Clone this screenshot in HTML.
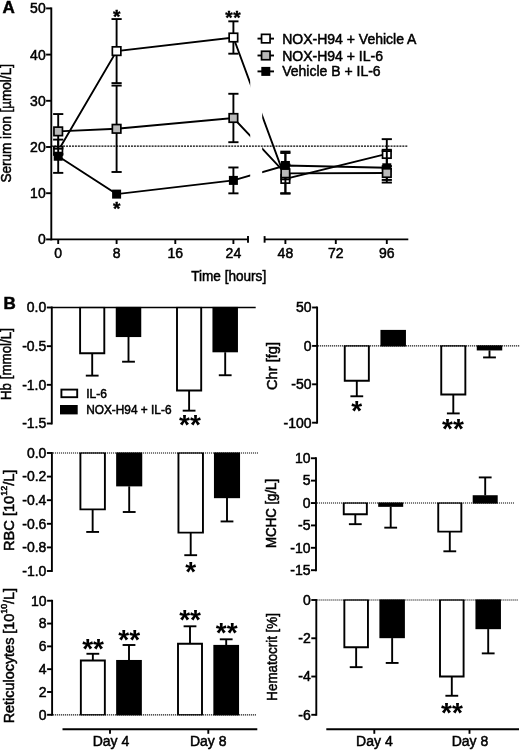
<!DOCTYPE html>
<html><head><meta charset="utf-8"><title>Figure</title>
<style>html,body{margin:0;padding:0;background:#fff}svg{display:block;will-change:transform;font-family:"Liberation Sans", Arial, Helvetica, sans-serif;fill:#000}</style>
</head><body>
<svg width="520" height="750" viewBox="0 0 520 750">
<rect x="0" y="0" width="520" height="750" fill="#fff" stroke="none"/>
<text x="2.6" y="12.6" font-size="17" text-anchor="start" font-weight="bold" stroke="#000" stroke-width="0.5">A</text>
<line x1="51.3" y1="7.45" x2="51.3" y2="240.35" stroke="#000" stroke-width="1.9" />
<line x1="46.099999999999994" y1="239.4" x2="51.3" y2="239.4" stroke="#000" stroke-width="1.9" />
<text x="45.699999999999996" y="244.4" font-size="14" text-anchor="end" font-weight="normal" stroke="#000" stroke-width="0.5">0</text>
<line x1="46.099999999999994" y1="193.2" x2="51.3" y2="193.2" stroke="#000" stroke-width="1.9" />
<text x="45.699999999999996" y="198.2" font-size="14" text-anchor="end" font-weight="normal" stroke="#000" stroke-width="0.5">10</text>
<line x1="46.099999999999994" y1="147.0" x2="51.3" y2="147.0" stroke="#000" stroke-width="1.9" />
<text x="45.699999999999996" y="152.0" font-size="14" text-anchor="end" font-weight="normal" stroke="#000" stroke-width="0.5">20</text>
<line x1="46.099999999999994" y1="100.8" x2="51.3" y2="100.8" stroke="#000" stroke-width="1.9" />
<text x="45.699999999999996" y="105.8" font-size="14" text-anchor="end" font-weight="normal" stroke="#000" stroke-width="0.5">30</text>
<line x1="46.099999999999994" y1="54.6" x2="51.3" y2="54.6" stroke="#000" stroke-width="1.9" />
<text x="45.699999999999996" y="59.6" font-size="14" text-anchor="end" font-weight="normal" stroke="#000" stroke-width="0.5">40</text>
<line x1="46.099999999999994" y1="8.4" x2="51.3" y2="8.4" stroke="#000" stroke-width="1.9" />
<text x="45.699999999999996" y="13.4" font-size="14" text-anchor="end" font-weight="normal" stroke="#000" stroke-width="0.5">50</text>
<text transform="translate(11.2,123.3) rotate(-90)" font-size="14" text-anchor="middle" textLength="118.5" lengthAdjust="spacingAndGlyphs" stroke="#000" stroke-width="0.5">Serum iron [µmol/L]</text>
<line x1="51.3" y1="239.4" x2="248.5" y2="239.4" stroke="#000" stroke-width="1.9" />
<line x1="248" y1="236.1" x2="248" y2="242.70000000000002" stroke="#000" stroke-width="1.9" />
<line x1="58.2" y1="239.4" x2="58.2" y2="244.0" stroke="#000" stroke-width="1.9" />
<text x="58.2" y="258.4" font-size="14" text-anchor="middle" font-weight="normal" stroke="#000" stroke-width="0.5">0</text>
<line x1="116.6" y1="239.4" x2="116.6" y2="244.0" stroke="#000" stroke-width="1.9" />
<text x="116.6" y="258.4" font-size="14" text-anchor="middle" font-weight="normal" stroke="#000" stroke-width="0.5">8</text>
<line x1="175.3" y1="239.4" x2="175.3" y2="244.0" stroke="#000" stroke-width="1.9" />
<text x="175.3" y="258.4" font-size="14" text-anchor="middle" font-weight="normal" stroke="#000" stroke-width="0.5">16</text>
<line x1="233.4" y1="239.4" x2="233.4" y2="244.0" stroke="#000" stroke-width="1.9" />
<text x="233.4" y="258.4" font-size="14" text-anchor="middle" font-weight="normal" stroke="#000" stroke-width="0.5">24</text>
<line x1="264" y1="239.4" x2="408.3" y2="239.4" stroke="#000" stroke-width="1.9" />
<line x1="264.6" y1="236.1" x2="264.6" y2="242.70000000000002" stroke="#000" stroke-width="1.9" />
<line x1="285.4" y1="239.4" x2="285.4" y2="244.0" stroke="#000" stroke-width="1.9" />
<text x="285.4" y="258.4" font-size="14" text-anchor="middle" font-weight="normal" stroke="#000" stroke-width="0.5">48</text>
<line x1="335.8" y1="239.4" x2="335.8" y2="244.0" stroke="#000" stroke-width="1.9" />
<text x="335.8" y="258.4" font-size="14" text-anchor="middle" font-weight="normal" stroke="#000" stroke-width="0.5">72</text>
<line x1="386.8" y1="239.4" x2="386.8" y2="244.0" stroke="#000" stroke-width="1.9" />
<text x="386.8" y="258.4" font-size="14" text-anchor="middle" font-weight="normal" stroke="#000" stroke-width="0.5">96</text>
<text x="228.7" y="280.6" font-size="14" text-anchor="middle" font-weight="normal" stroke="#000" stroke-width="0.5" textLength="75" lengthAdjust="spacingAndGlyphs">Time [hours]</text>
<defs><clipPath id="c1"><rect x="0" y="0" width="250.2" height="240"/></clipPath><clipPath id="c2"><rect x="262.2" y="0" width="200" height="240"/></clipPath></defs>
<polyline points="58.2,150.79 116.6,51.09 233.4,37.51 285.4,178.88 386.8,153.93" fill="none" stroke="#000" stroke-width="1.9" clip-path="url(#c1)"/>
<polyline points="58.2,150.79 116.6,51.09 233.4,37.51 285.4,178.88 386.8,153.93" fill="none" stroke="#000" stroke-width="1.9" clip-path="url(#c2)"/>
<line x1="58.2" y1="147.55" x2="58.2" y2="154.02" stroke="#000" stroke-width="1.9" />
<line x1="53.1" y1="147.55" x2="63.300000000000004" y2="147.55" stroke="#000" stroke-width="1.9" />
<line x1="53.1" y1="154.02" x2="63.300000000000004" y2="154.02" stroke="#000" stroke-width="1.9" />
<line x1="116.6" y1="19.07" x2="116.6" y2="83.11" stroke="#000" stroke-width="1.9" />
<line x1="111.5" y1="19.07" x2="121.69999999999999" y2="19.07" stroke="#000" stroke-width="1.9" />
<line x1="111.5" y1="83.11" x2="121.69999999999999" y2="83.11" stroke="#000" stroke-width="1.9" />
<line x1="233.4" y1="21.34" x2="233.4" y2="53.68" stroke="#000" stroke-width="1.9" />
<line x1="228.3" y1="21.34" x2="238.5" y2="21.34" stroke="#000" stroke-width="1.9" />
<line x1="228.3" y1="53.68" x2="238.5" y2="53.68" stroke="#000" stroke-width="1.9" />
<line x1="285.4" y1="164.56" x2="285.4" y2="193.2" stroke="#000" stroke-width="1.9" />
<line x1="280.29999999999995" y1="164.56" x2="290.5" y2="164.56" stroke="#000" stroke-width="1.9" />
<line x1="280.29999999999995" y1="193.2" x2="290.5" y2="193.2" stroke="#000" stroke-width="1.9" />
<line x1="386.8" y1="139.15" x2="386.8" y2="168.71" stroke="#000" stroke-width="1.9" />
<line x1="381.7" y1="139.15" x2="391.90000000000003" y2="139.15" stroke="#000" stroke-width="1.9" />
<line x1="381.7" y1="168.71" x2="391.90000000000003" y2="168.71" stroke="#000" stroke-width="1.9" />
<rect x="53.95" y="146.54" width="8.5" height="8.5" fill="#fff" stroke="#000" stroke-width="1.7"/>
<rect x="112.35" y="46.84" width="8.5" height="8.5" fill="#fff" stroke="#000" stroke-width="1.7"/>
<rect x="229.15" y="33.26" width="8.5" height="8.5" fill="#fff" stroke="#000" stroke-width="1.7"/>
<rect x="281.15" y="174.63" width="8.5" height="8.5" fill="#fff" stroke="#000" stroke-width="1.7"/>
<rect x="382.55" y="149.68" width="8.5" height="8.5" fill="#fff" stroke="#000" stroke-width="1.7"/>
<line x1="51.3" y1="146.08" x2="408" y2="146.08" stroke="#000" stroke-width="1.4" stroke-dasharray="2 0.95"/>
<polyline points="58.2,156.24 116.6,194.12 233.4,180.4 285.4,165.48 386.8,167.79" fill="none" stroke="#000" stroke-width="1.9" clip-path="url(#c1)"/>
<polyline points="58.2,156.24 116.6,194.12 233.4,180.4 285.4,165.48 386.8,167.79" fill="none" stroke="#000" stroke-width="1.9" clip-path="url(#c2)"/>
<line x1="58.2" y1="139.61" x2="58.2" y2="172.87" stroke="#000" stroke-width="1.9" />
<line x1="53.1" y1="139.61" x2="63.300000000000004" y2="139.61" stroke="#000" stroke-width="1.9" />
<line x1="53.1" y1="172.87" x2="63.300000000000004" y2="172.87" stroke="#000" stroke-width="1.9" />
<line x1="233.4" y1="167.47" x2="233.4" y2="193.34" stroke="#000" stroke-width="1.9" />
<line x1="228.3" y1="167.47" x2="238.5" y2="167.47" stroke="#000" stroke-width="1.9" />
<line x1="228.3" y1="193.34" x2="238.5" y2="193.34" stroke="#000" stroke-width="1.9" />
<line x1="285.4" y1="151.62" x2="285.4" y2="179.34" stroke="#000" stroke-width="1.9" />
<line x1="280.29999999999995" y1="151.62" x2="290.5" y2="151.62" stroke="#000" stroke-width="1.9" />
<line x1="280.29999999999995" y1="179.34" x2="290.5" y2="179.34" stroke="#000" stroke-width="1.9" />
<line x1="386.8" y1="151.07" x2="386.8" y2="182.57" stroke="#000" stroke-width="1.9" />
<line x1="381.7" y1="151.07" x2="391.90000000000003" y2="151.07" stroke="#000" stroke-width="1.9" />
<line x1="381.7" y1="182.57" x2="391.90000000000003" y2="182.57" stroke="#000" stroke-width="1.9" />
<rect x="53.7" y="151.74" width="9" height="9" fill="#000"/>
<rect x="112.1" y="189.62" width="9" height="9" fill="#000"/>
<rect x="228.9" y="175.9" width="9" height="9" fill="#000"/>
<rect x="280.9" y="160.98" width="9" height="9" fill="#000"/>
<rect x="382.3" y="163.29" width="9" height="9" fill="#000"/>
<polyline points="58.2,131.38 116.6,128.8 233.4,117.99 285.4,173.33 386.8,173.01" fill="none" stroke="#000" stroke-width="1.9" clip-path="url(#c1)"/>
<polyline points="58.2,131.38 116.6,128.8 233.4,117.99 285.4,173.33 386.8,173.01" fill="none" stroke="#000" stroke-width="1.9" clip-path="url(#c2)"/>
<line x1="58.2" y1="114.06" x2="58.2" y2="148.71" stroke="#000" stroke-width="1.9" />
<line x1="53.1" y1="114.06" x2="63.300000000000004" y2="114.06" stroke="#000" stroke-width="1.9" />
<line x1="53.1" y1="148.71" x2="63.300000000000004" y2="148.71" stroke="#000" stroke-width="1.9" />
<line x1="116.6" y1="85.6" x2="116.6" y2="171.99" stroke="#000" stroke-width="1.9" />
<line x1="111.5" y1="85.6" x2="121.69999999999999" y2="85.6" stroke="#000" stroke-width="1.9" />
<line x1="111.5" y1="171.99" x2="121.69999999999999" y2="171.99" stroke="#000" stroke-width="1.9" />
<line x1="233.4" y1="93.78" x2="233.4" y2="142.2" stroke="#000" stroke-width="1.9" />
<line x1="228.3" y1="93.78" x2="238.5" y2="93.78" stroke="#000" stroke-width="1.9" />
<line x1="228.3" y1="142.2" x2="238.5" y2="142.2" stroke="#000" stroke-width="1.9" />
<line x1="285.4" y1="153.01" x2="285.4" y2="193.66" stroke="#000" stroke-width="1.9" />
<line x1="280.29999999999995" y1="153.01" x2="290.5" y2="153.01" stroke="#000" stroke-width="1.9" />
<line x1="280.29999999999995" y1="193.66" x2="290.5" y2="193.66" stroke="#000" stroke-width="1.9" />
<line x1="386.8" y1="166.08" x2="386.8" y2="179.94" stroke="#000" stroke-width="1.9" />
<line x1="381.7" y1="166.08" x2="391.90000000000003" y2="166.08" stroke="#000" stroke-width="1.9" />
<line x1="381.7" y1="179.94" x2="391.90000000000003" y2="179.94" stroke="#000" stroke-width="1.9" />
<rect x="53.95" y="127.13" width="8.5" height="8.5" fill="#b9b9b9" stroke="#000" stroke-width="1.7"/>
<rect x="112.35" y="124.55000000000001" width="8.5" height="8.5" fill="#b9b9b9" stroke="#000" stroke-width="1.7"/>
<rect x="229.15" y="113.74" width="8.5" height="8.5" fill="#b9b9b9" stroke="#000" stroke-width="1.7"/>
<rect x="281.15" y="169.08" width="8.5" height="8.5" fill="#b9b9b9" stroke="#000" stroke-width="1.7"/>
<rect x="382.55" y="168.76" width="8.5" height="8.5" fill="#b9b9b9" stroke="#000" stroke-width="1.7"/>
<text x="116.6" y="23.0" font-size="19" text-anchor="middle" font-weight="bold" stroke="#000" stroke-width="0.4">*</text>
<text x="233.3" y="24.2" font-size="19" text-anchor="middle" font-weight="bold" stroke="#000" stroke-width="0.4" letter-spacing="0.6">**</text>
<text x="116.6" y="214.8" font-size="19" text-anchor="middle" font-weight="bold" stroke="#000" stroke-width="0.4">*</text>
<line x1="257.5" y1="38.6" x2="274" y2="38.6" stroke="#000" stroke-width="1.9" />
<rect x="261.55" y="34.35" width="8.5" height="8.5" fill="#fff" stroke="#000" stroke-width="1.7"/>
<text x="282.2" y="43.6" font-size="14" text-anchor="start" font-weight="normal" stroke="#000" stroke-width="0.5">NOX-H94 + Vehicle A</text>
<line x1="257.5" y1="55.5" x2="274" y2="55.5" stroke="#000" stroke-width="1.9" />
<rect x="261.55" y="51.25" width="8.5" height="8.5" fill="#b9b9b9" stroke="#000" stroke-width="1.7"/>
<text x="282.2" y="60.5" font-size="14" text-anchor="start" font-weight="normal" stroke="#000" stroke-width="0.5">NOX-H94 + IL-6</text>
<line x1="257.5" y1="71.4" x2="274" y2="71.4" stroke="#000" stroke-width="1.9" />
<rect x="261.3" y="66.9" width="9" height="9" fill="#000"/>
<text x="282.2" y="76.4" font-size="14" text-anchor="start" font-weight="normal" stroke="#000" stroke-width="0.5">Vehicle B + IL-6</text>
<text x="3.4" y="308.6" font-size="17" text-anchor="start" font-weight="bold" stroke="#000" stroke-width="0.5">B</text>
<line x1="92.2" y1="353.2" x2="92.2" y2="375.63" stroke="#000" stroke-width="1.9" />
<line x1="85.8" y1="375.63" x2="98.60000000000001" y2="375.63" stroke="#000" stroke-width="1.9" />
<path d="M80.10000000000001 307.5 L80.10000000000001 353.2 L104.3 353.2 L104.3 307.5" fill="#fff" stroke="#000" stroke-width="1.9" stroke-linejoin="miter"/>
<line x1="79.15" y1="307.5" x2="105.25" y2="307.5" stroke="#000" stroke-width="1.2" />
<line x1="128.5" y1="336.96" x2="128.5" y2="361.71" stroke="#000" stroke-width="1.9" />
<line x1="122.1" y1="361.71" x2="134.9" y2="361.71" stroke="#000" stroke-width="1.9" />
<rect x="115.75" y="306.9" width="25.5" height="30.159999999999982" fill="#000"/>
<line x1="189.1" y1="390.56" x2="189.1" y2="410.66" stroke="#000" stroke-width="1.9" />
<line x1="182.7" y1="410.66" x2="195.5" y2="410.66" stroke="#000" stroke-width="1.9" />
<path d="M177.0 307.5 L177.0 390.56 L201.2 390.56 L201.2 307.5" fill="#fff" stroke="#000" stroke-width="1.9" stroke-linejoin="miter"/>
<line x1="176.05" y1="307.5" x2="202.14999999999998" y2="307.5" stroke="#000" stroke-width="1.2" />
<line x1="225.2" y1="352.2" x2="225.2" y2="375.24" stroke="#000" stroke-width="1.9" />
<line x1="218.79999999999998" y1="375.24" x2="231.6" y2="375.24" stroke="#000" stroke-width="1.9" />
<rect x="212.45" y="306.9" width="25.5" height="45.39999999999999" fill="#000"/>
<line x1="51.8" y1="307.5" x2="255.7" y2="307.5" stroke="#000" stroke-width="1.3" />
<line x1="51.8" y1="306.55" x2="51.8" y2="424.45" stroke="#000" stroke-width="1.9" />
<line x1="46.8" y1="307.5" x2="51.8" y2="307.5" stroke="#000" stroke-width="1.9" />
<text x="46.3" y="312.3" font-size="14" text-anchor="end" font-weight="normal" stroke="#000" stroke-width="0.5">0.0</text>
<line x1="46.8" y1="346.17" x2="51.8" y2="346.17" stroke="#000" stroke-width="1.9" />
<text x="46.3" y="350.97" font-size="14" text-anchor="end" font-weight="normal" stroke="#000" stroke-width="0.5">-0.5</text>
<line x1="46.8" y1="384.83" x2="51.8" y2="384.83" stroke="#000" stroke-width="1.9" />
<text x="46.3" y="389.63" font-size="14" text-anchor="end" font-weight="normal" stroke="#000" stroke-width="0.5">-1.0</text>
<line x1="46.8" y1="423.5" x2="51.8" y2="423.5" stroke="#000" stroke-width="1.9" />
<text x="46.3" y="428.3" font-size="14" text-anchor="end" font-weight="normal" stroke="#000" stroke-width="0.5">-1.5</text>
<text transform="translate(11.2,364.1) rotate(-90)" font-size="14" text-anchor="middle" textLength="72" lengthAdjust="spacingAndGlyphs" stroke="#000" stroke-width="0.5">Hb [mmol/L]</text>
<text x="190" y="434.40000000000003" font-size="28" text-anchor="middle" font-weight="bold" >**</text>
<rect x="61.4" y="389.6" width="15.8" height="7.6" fill="#fff" stroke="#000" stroke-width="1.9"/>
<text x="86.2" y="397.6" font-size="12" text-anchor="start" font-weight="normal" stroke="#000" stroke-width="0.5">IL-6</text>
<rect x="60" y="405" width="17.7" height="9.4" fill="#000"/>
<text x="86.2" y="413.8" font-size="12" text-anchor="start" font-weight="normal" stroke="#000" stroke-width="0.5" textLength="85.3" lengthAdjust="spacingAndGlyphs">NOX-H94 + IL-6</text>
<line x1="356.8" y1="380.77" x2="356.8" y2="396.28" stroke="#000" stroke-width="1.9" />
<line x1="350.40000000000003" y1="396.28" x2="363.2" y2="396.28" stroke="#000" stroke-width="1.9" />
<path d="M344.75 345.9 L344.75 380.77 L368.85 380.77 L368.85 345.9" fill="#fff" stroke="#000" stroke-width="1.9" stroke-linejoin="miter"/>
<line x1="343.8" y1="345.9" x2="369.8" y2="345.9" stroke="#000" stroke-width="1.2" />
<rect x="380.45" y="329.9" width="25.5" height="16.599999999999977" fill="#000"/>
<line x1="453.3" y1="394.44" x2="453.3" y2="413.41" stroke="#000" stroke-width="1.9" />
<line x1="446.90000000000003" y1="413.41" x2="459.7" y2="413.41" stroke="#000" stroke-width="1.9" />
<path d="M441.25 345.9 L441.25 394.44 L465.35 394.44 L465.35 345.9" fill="#fff" stroke="#000" stroke-width="1.9" stroke-linejoin="miter"/>
<line x1="440.3" y1="345.9" x2="466.3" y2="345.9" stroke="#000" stroke-width="1.2" />
<line x1="489.5" y1="350.35" x2="489.5" y2="357.42" stroke="#000" stroke-width="1.9" />
<line x1="483.1" y1="357.42" x2="495.9" y2="357.42" stroke="#000" stroke-width="1.9" />
<rect x="476.75" y="345.29999999999995" width="25.5" height="5.150000000000045" fill="#000"/>
<line x1="318.1" y1="345.9" x2="520" y2="345.9" stroke="#000" stroke-width="1.15" stroke-dasharray="1.1 0.9"/>
<line x1="317.1" y1="306.55" x2="317.1" y2="423.65" stroke="#000" stroke-width="1.9" />
<line x1="312.1" y1="307.5" x2="317.1" y2="307.5" stroke="#000" stroke-width="1.9" />
<text x="311.6" y="312.3" font-size="14" text-anchor="end" font-weight="normal" stroke="#000" stroke-width="0.5">50</text>
<line x1="312.1" y1="345.9" x2="317.1" y2="345.9" stroke="#000" stroke-width="1.9" />
<text x="311.6" y="350.7" font-size="14" text-anchor="end" font-weight="normal" stroke="#000" stroke-width="0.5">0</text>
<line x1="312.1" y1="384.3" x2="317.1" y2="384.3" stroke="#000" stroke-width="1.9" />
<text x="311.6" y="389.1" font-size="14" text-anchor="end" font-weight="normal" stroke="#000" stroke-width="0.5">-50</text>
<line x1="312.1" y1="422.7" x2="317.1" y2="422.7" stroke="#000" stroke-width="1.9" />
<text x="311.6" y="427.5" font-size="14" text-anchor="end" font-weight="normal" stroke="#000" stroke-width="0.5">-100</text>
<text transform="translate(277,366) rotate(-90)" font-size="14" text-anchor="middle" textLength="48" lengthAdjust="spacingAndGlyphs" stroke="#000" stroke-width="0.5">Chr [fg]</text>
<text x="356.6" y="420.1" font-size="28" text-anchor="middle" font-weight="bold" >*</text>
<text x="453" y="438.40000000000003" font-size="28" text-anchor="middle" font-weight="bold" >**</text>
<line x1="92.65" y1="509.4" x2="92.65" y2="531.94" stroke="#000" stroke-width="1.9" />
<line x1="86.25" y1="531.94" x2="99.05000000000001" y2="531.94" stroke="#000" stroke-width="1.9" />
<path d="M80.4 453.0 L80.4 509.4 L104.9 509.4 L104.9 453.0" fill="#fff" stroke="#000" stroke-width="1.9" stroke-linejoin="miter"/>
<line x1="79.45" y1="453.0" x2="105.85000000000001" y2="453.0" stroke="#000" stroke-width="1.2" />
<line x1="129.2" y1="486.28" x2="129.2" y2="512.0" stroke="#000" stroke-width="1.9" />
<line x1="122.79999999999998" y1="512.0" x2="135.6" y2="512.0" stroke="#000" stroke-width="1.9" />
<rect x="116.14999999999999" y="452.4" width="26.1" height="33.979999999999976" fill="#000"/>
<line x1="190.7" y1="532.65" x2="190.7" y2="555.19" stroke="#000" stroke-width="1.9" />
<line x1="184.29999999999998" y1="555.19" x2="197.1" y2="555.19" stroke="#000" stroke-width="1.9" />
<path d="M178.45 453.0 L178.45 532.65 L202.95 532.65 L202.95 453.0" fill="#fff" stroke="#000" stroke-width="1.9" stroke-linejoin="miter"/>
<line x1="177.5" y1="453.0" x2="203.89999999999998" y2="453.0" stroke="#000" stroke-width="1.2" />
<line x1="227.0" y1="498.08" x2="227.0" y2="521.44" stroke="#000" stroke-width="1.9" />
<line x1="220.6" y1="521.44" x2="233.4" y2="521.44" stroke="#000" stroke-width="1.9" />
<rect x="213.95" y="452.4" width="26.1" height="45.77999999999999" fill="#000"/>
<line x1="52.9" y1="453.0" x2="258" y2="453.0" stroke="#000" stroke-width="1.15" stroke-dasharray="1.1 0.9"/>
<line x1="51.9" y1="452.05" x2="51.9" y2="571.95" stroke="#000" stroke-width="1.9" />
<line x1="46.9" y1="453.0" x2="51.9" y2="453.0" stroke="#000" stroke-width="1.9" />
<text x="46.4" y="457.8" font-size="14" text-anchor="end" font-weight="normal" stroke="#000" stroke-width="0.5">0.0</text>
<line x1="46.9" y1="476.6" x2="51.9" y2="476.6" stroke="#000" stroke-width="1.9" />
<text x="46.4" y="481.40000000000003" font-size="14" text-anchor="end" font-weight="normal" stroke="#000" stroke-width="0.5">-0.2</text>
<line x1="46.9" y1="500.2" x2="51.9" y2="500.2" stroke="#000" stroke-width="1.9" />
<text x="46.4" y="505.0" font-size="14" text-anchor="end" font-weight="normal" stroke="#000" stroke-width="0.5">-0.4</text>
<line x1="46.9" y1="523.8" x2="51.9" y2="523.8" stroke="#000" stroke-width="1.9" />
<text x="46.4" y="528.5999999999999" font-size="14" text-anchor="end" font-weight="normal" stroke="#000" stroke-width="0.5">-0.6</text>
<line x1="46.9" y1="547.4" x2="51.9" y2="547.4" stroke="#000" stroke-width="1.9" />
<text x="46.4" y="552.1999999999999" font-size="14" text-anchor="end" font-weight="normal" stroke="#000" stroke-width="0.5">-0.8</text>
<line x1="46.9" y1="571.0" x2="51.9" y2="571.0" stroke="#000" stroke-width="1.9" />
<text x="46.4" y="575.8" font-size="14" text-anchor="end" font-weight="normal" stroke="#000" stroke-width="0.5">-1.0</text>
<text transform="translate(13.7,510.3) rotate(-90)" font-size="14" text-anchor="middle" textLength="81.5" lengthAdjust="spacingAndGlyphs" stroke="#000" stroke-width="0.5">RBC [10<tspan font-size="8.5" dy="-7.2">12</tspan><tspan dy="7.2">/L]</tspan></text>
<text x="190.7" y="581.1" font-size="28" text-anchor="middle" font-weight="bold" >*</text>
<line x1="355.3" y1="514.23" x2="355.3" y2="524.17" stroke="#000" stroke-width="1.9" />
<line x1="348.90000000000003" y1="524.17" x2="361.7" y2="524.17" stroke="#000" stroke-width="1.9" />
<path d="M343.75 503.03 L343.75 514.23 L366.85 514.23 L366.85 503.03" fill="#fff" stroke="#000" stroke-width="1.9" stroke-linejoin="miter"/>
<line x1="342.8" y1="503.03" x2="367.8" y2="503.03" stroke="#000" stroke-width="1.2" />
<line x1="390.7" y1="506.75" x2="390.7" y2="527.66" stroke="#000" stroke-width="1.9" />
<line x1="384.3" y1="527.66" x2="397.09999999999997" y2="527.66" stroke="#000" stroke-width="1.9" />
<rect x="378.2" y="502.42999999999995" width="25.0" height="4.4200000000000275" fill="#000"/>
<line x1="449.8" y1="531.64" x2="449.8" y2="551.3" stroke="#000" stroke-width="1.9" />
<line x1="443.40000000000003" y1="551.3" x2="456.2" y2="551.3" stroke="#000" stroke-width="1.9" />
<path d="M438.25 503.03 L438.25 531.64 L461.35 531.64 L461.35 503.03" fill="#fff" stroke="#000" stroke-width="1.9" stroke-linejoin="miter"/>
<line x1="437.3" y1="503.03" x2="462.3" y2="503.03" stroke="#000" stroke-width="1.2" />
<line x1="485.2" y1="495.33" x2="485.2" y2="477.42" stroke="#000" stroke-width="1.9" />
<line x1="478.8" y1="477.42" x2="491.59999999999997" y2="477.42" stroke="#000" stroke-width="1.9" />
<rect x="472.7" y="495.22999999999996" width="25.0" height="8.399999999999988" fill="#000"/>
<line x1="317.0" y1="503.03" x2="514" y2="503.03" stroke="#000" stroke-width="1.15" stroke-dasharray="1.1 0.9"/>
<line x1="316.0" y1="457.3" x2="316.0" y2="571.1500000000001" stroke="#000" stroke-width="1.9" />
<line x1="311.0" y1="458.25" x2="316.0" y2="458.25" stroke="#000" stroke-width="1.9" />
<text x="310.5" y="463.05" font-size="14" text-anchor="end" font-weight="normal" stroke="#000" stroke-width="0.5">10</text>
<line x1="311.0" y1="480.64" x2="316.0" y2="480.64" stroke="#000" stroke-width="1.9" />
<text x="310.5" y="485.44" font-size="14" text-anchor="end" font-weight="normal" stroke="#000" stroke-width="0.5">5</text>
<line x1="311.0" y1="503.03" x2="316.0" y2="503.03" stroke="#000" stroke-width="1.9" />
<text x="310.5" y="507.83" font-size="14" text-anchor="end" font-weight="normal" stroke="#000" stroke-width="0.5">0</text>
<line x1="311.0" y1="525.42" x2="316.0" y2="525.42" stroke="#000" stroke-width="1.9" />
<text x="310.5" y="530.2199999999999" font-size="14" text-anchor="end" font-weight="normal" stroke="#000" stroke-width="0.5">-5</text>
<line x1="311.0" y1="547.81" x2="316.0" y2="547.81" stroke="#000" stroke-width="1.9" />
<text x="310.5" y="552.6099999999999" font-size="14" text-anchor="end" font-weight="normal" stroke="#000" stroke-width="0.5">-10</text>
<line x1="311.0" y1="570.2" x2="316.0" y2="570.2" stroke="#000" stroke-width="1.9" />
<text x="310.5" y="575.0" font-size="14" text-anchor="end" font-weight="normal" stroke="#000" stroke-width="0.5">-15</text>
<text transform="translate(275.5,513.4) rotate(-90)" font-size="14" text-anchor="middle" textLength="69" lengthAdjust="spacingAndGlyphs" stroke="#000" stroke-width="0.5">MCHC [g/L]</text>
<line x1="92.85" y1="660.51" x2="92.85" y2="653.78" stroke="#000" stroke-width="1.9" />
<line x1="86.44999999999999" y1="653.78" x2="99.25" y2="653.78" stroke="#000" stroke-width="1.9" />
<path d="M80.85 714.8 L80.85 660.51 L104.85 660.51 L104.85 714.8" fill="#fff" stroke="#000" stroke-width="1.9" stroke-linejoin="miter"/>
<line x1="79.89999999999999" y1="714.8" x2="105.8" y2="714.8" stroke="#000" stroke-width="1.2" />
<line x1="129.0" y1="660.06" x2="129.0" y2="645.0" stroke="#000" stroke-width="1.9" />
<line x1="122.6" y1="645.0" x2="135.4" y2="645.0" stroke="#000" stroke-width="1.9" />
<rect x="116.15" y="659.9599999999999" width="25.7" height="55.44000000000001" fill="#000"/>
<line x1="190.0" y1="643.75" x2="190.0" y2="626.3" stroke="#000" stroke-width="1.9" />
<line x1="183.6" y1="626.3" x2="196.4" y2="626.3" stroke="#000" stroke-width="1.9" />
<path d="M178.0 714.8 L178.0 643.75 L202.0 643.75 L202.0 714.8" fill="#fff" stroke="#000" stroke-width="1.9" stroke-linejoin="miter"/>
<line x1="177.05" y1="714.8" x2="202.95" y2="714.8" stroke="#000" stroke-width="1.2" />
<line x1="226.2" y1="645.0" x2="226.2" y2="639.3" stroke="#000" stroke-width="1.9" />
<line x1="219.79999999999998" y1="639.3" x2="232.6" y2="639.3" stroke="#000" stroke-width="1.9" />
<rect x="213.35" y="644.9" width="25.7" height="70.49999999999994" fill="#000"/>
<line x1="53.1" y1="714.8" x2="256" y2="714.8" stroke="#000" stroke-width="1.15" stroke-dasharray="1.1 0.9"/>
<line x1="52.1" y1="599.8" x2="52.1" y2="715.75" stroke="#000" stroke-width="1.9" />
<line x1="47.1" y1="600.75" x2="52.1" y2="600.75" stroke="#000" stroke-width="1.9" />
<text x="46.6" y="605.55" font-size="14" text-anchor="end" font-weight="normal" stroke="#000" stroke-width="0.5">10</text>
<line x1="47.1" y1="623.56" x2="52.1" y2="623.56" stroke="#000" stroke-width="1.9" />
<text x="46.6" y="628.3599999999999" font-size="14" text-anchor="end" font-weight="normal" stroke="#000" stroke-width="0.5">8</text>
<line x1="47.1" y1="646.37" x2="52.1" y2="646.37" stroke="#000" stroke-width="1.9" />
<text x="46.6" y="651.17" font-size="14" text-anchor="end" font-weight="normal" stroke="#000" stroke-width="0.5">6</text>
<line x1="47.1" y1="669.18" x2="52.1" y2="669.18" stroke="#000" stroke-width="1.9" />
<text x="46.6" y="673.9799999999999" font-size="14" text-anchor="end" font-weight="normal" stroke="#000" stroke-width="0.5">4</text>
<line x1="47.1" y1="691.99" x2="52.1" y2="691.99" stroke="#000" stroke-width="1.9" />
<text x="46.6" y="696.79" font-size="14" text-anchor="end" font-weight="normal" stroke="#000" stroke-width="0.5">2</text>
<line x1="47.1" y1="714.8" x2="52.1" y2="714.8" stroke="#000" stroke-width="1.9" />
<text x="46.6" y="719.5999999999999" font-size="14" text-anchor="end" font-weight="normal" stroke="#000" stroke-width="0.5">0</text>
<text transform="translate(13.7,655.6) rotate(-90)" font-size="14" text-anchor="middle" textLength="135.5" lengthAdjust="spacingAndGlyphs" stroke="#000" stroke-width="0.5">Reticulocytes [10<tspan font-size="8.5" dy="-7.2">10</tspan><tspan dy="7.2">/L]</tspan></text>
<text x="93.1" y="658.3000000000001" font-size="28" text-anchor="middle" font-weight="bold" >**</text>
<text x="129.2" y="649.3000000000001" font-size="28" text-anchor="middle" font-weight="bold" >**</text>
<text x="190.1" y="629.0" font-size="28" text-anchor="middle" font-weight="bold" >**</text>
<text x="226.7" y="642.0" font-size="28" text-anchor="middle" font-weight="bold" >**</text>
<line x1="356.15" y1="647.26" x2="356.15" y2="667.16" stroke="#000" stroke-width="1.9" />
<line x1="349.75" y1="667.16" x2="362.54999999999995" y2="667.16" stroke="#000" stroke-width="1.9" />
<path d="M344.34999999999997 600.0 L344.34999999999997 647.26 L367.95 647.26 L367.95 600.0" fill="#fff" stroke="#000" stroke-width="1.9" stroke-linejoin="miter"/>
<line x1="343.4" y1="600.0" x2="368.9" y2="600.0" stroke="#000" stroke-width="1.2" />
<line x1="392.15" y1="638.08" x2="392.15" y2="662.95" stroke="#000" stroke-width="1.9" />
<line x1="385.75" y1="662.95" x2="398.54999999999995" y2="662.95" stroke="#000" stroke-width="1.9" />
<rect x="379.4" y="599.4" width="25.5" height="38.780000000000044" fill="#000"/>
<line x1="451.8" y1="676.44" x2="451.8" y2="695.76" stroke="#000" stroke-width="1.9" />
<line x1="445.40000000000003" y1="695.76" x2="458.2" y2="695.76" stroke="#000" stroke-width="1.9" />
<path d="M440.0 600.0 L440.0 676.44 L463.6 676.44 L463.6 600.0" fill="#fff" stroke="#000" stroke-width="1.9" stroke-linejoin="miter"/>
<line x1="439.05" y1="600.0" x2="464.55" y2="600.0" stroke="#000" stroke-width="1.2" />
<line x1="488.2" y1="629.08" x2="488.2" y2="653.38" stroke="#000" stroke-width="1.9" />
<line x1="481.8" y1="653.38" x2="494.59999999999997" y2="653.38" stroke="#000" stroke-width="1.9" />
<rect x="475.45" y="599.4" width="25.5" height="29.780000000000044" fill="#000"/>
<line x1="317.3" y1="600.0" x2="518" y2="600.0" stroke="#000" stroke-width="1.15" stroke-dasharray="1.1 0.9"/>
<line x1="316.3" y1="599.05" x2="316.3" y2="715.75" stroke="#000" stroke-width="1.9" />
<line x1="311.3" y1="600.0" x2="316.3" y2="600.0" stroke="#000" stroke-width="1.9" />
<text x="310.8" y="604.8" font-size="14" text-anchor="end" font-weight="normal" stroke="#000" stroke-width="0.5">0</text>
<line x1="311.3" y1="638.27" x2="316.3" y2="638.27" stroke="#000" stroke-width="1.9" />
<text x="310.8" y="643.0699999999999" font-size="14" text-anchor="end" font-weight="normal" stroke="#000" stroke-width="0.5">-2</text>
<line x1="311.3" y1="676.53" x2="316.3" y2="676.53" stroke="#000" stroke-width="1.9" />
<text x="310.8" y="681.3299999999999" font-size="14" text-anchor="end" font-weight="normal" stroke="#000" stroke-width="0.5">-4</text>
<line x1="311.3" y1="714.8" x2="316.3" y2="714.8" stroke="#000" stroke-width="1.9" />
<text x="310.8" y="719.5999999999999" font-size="14" text-anchor="end" font-weight="normal" stroke="#000" stroke-width="0.5">-6</text>
<text transform="translate(277,656.9) rotate(-90)" font-size="14" text-anchor="middle" textLength="87.5" lengthAdjust="spacingAndGlyphs" stroke="#000" stroke-width="0.5">Hematocrit [%]</text>
<text x="452" y="721.9" font-size="28" text-anchor="middle" font-weight="bold" >**</text>
<line x1="62.5" y1="729.25" x2="257.3" y2="729.25" stroke="#000" stroke-width="1.9" />
<line x1="326.3" y1="729.25" x2="519" y2="729.25" stroke="#000" stroke-width="1.9" />
<line x1="110" y1="729.25" x2="110" y2="733.8" stroke="#000" stroke-width="1.9" />
<line x1="208.3" y1="729.25" x2="208.3" y2="733.8" stroke="#000" stroke-width="1.9" />
<line x1="374.3" y1="729.25" x2="374.3" y2="733.8" stroke="#000" stroke-width="1.9" />
<line x1="469.5" y1="729.25" x2="469.5" y2="733.8" stroke="#000" stroke-width="1.9" />
<text x="111" y="746.3" font-size="14" text-anchor="middle" font-weight="normal" stroke="#000" stroke-width="0.5">Day 4</text>
<text x="208.2" y="746.3" font-size="14" text-anchor="middle" font-weight="normal" stroke="#000" stroke-width="0.5">Day 8</text>
<text x="374.4" y="746.3" font-size="14" text-anchor="middle" font-weight="normal" stroke="#000" stroke-width="0.5">Day 4</text>
<text x="470" y="746.3" font-size="14" text-anchor="middle" font-weight="normal" stroke="#000" stroke-width="0.5">Day 8</text>
</svg>
</body></html>
